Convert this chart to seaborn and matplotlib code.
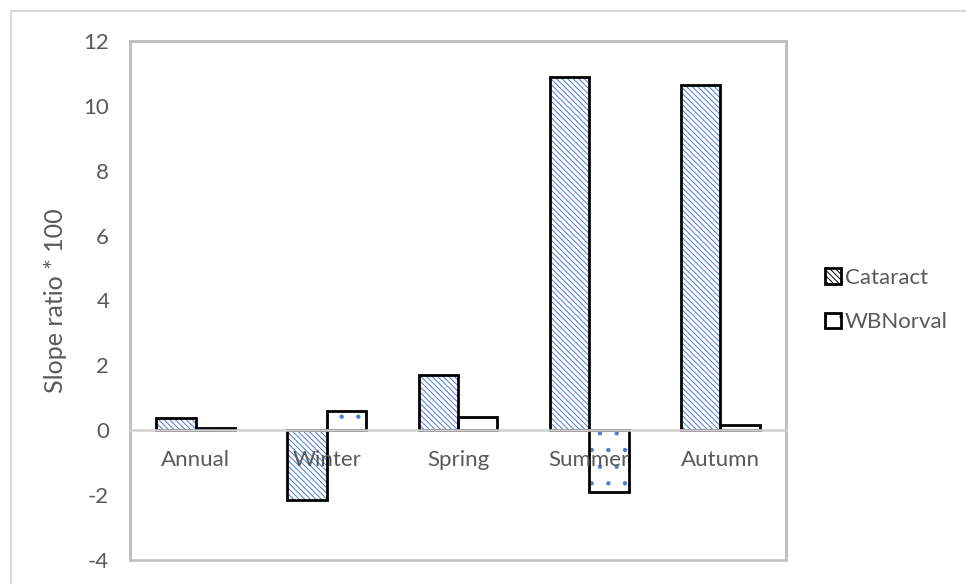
import matplotlib
matplotlib.use("Agg")
import matplotlib.pyplot as plt
import seaborn as sns
import pandas as pd
from matplotlib.patches import Rectangle, Patch

# data
seasons = ["Annual", "Winter", "Spring", "Summer", "Autumn"]
cataract = [0.38, -2.15, 1.7, 10.9, 10.65]
wbnorval = [0.07, 0.6, 0.4, -1.9, 0.15]
series = ["Cataract", "WBNorval"]
yticks = [-4, -2, 0, 2, 4, 6, 8, 10, 12]

df = pd.DataFrame({"Season": seasons * 2,
                   "Series": ["Cataract"] * 5 + ["WBNorval"] * 5,
                   "Value": cataract + wbnorval})

sns.set_theme(style="white")
plt.rcParams["font.family"] = ["Lato", "DejaVu Sans"]
plt.rcParams["hatch.linewidth"] = 0.7
plt.rcParams["axes.unicode_minus"] = False

grey = "#595959"
blue = "#4a7bd4"
hatches = {"Cataract": "\\\\\\\\\\\\", "WBNorval": "."}

fig = plt.figure(figsize=(9.66, 5.84), dpi=100)
ax = fig.add_axes([130 / 966, 1 - 560 / 584, 656 / 966, 519 / 584])

sns.barplot(data=df, x="Season", y="Value", hue="Series", order=seasons,
            hue_order=series, palette=["white", "white"], width=0.6,
            legend=False, ax=ax)

# hatch in blue, then overlay black outline
for container, name in zip(ax.containers, series):
    for bar in container:
        bar.set_hatch(hatches[name])
        bar.set_edgecolor(blue)
        bar.set_linewidth(0)
        ax.add_patch(Rectangle(bar.get_xy(), bar.get_width(), bar.get_height(),
                               fill=False, edgecolor="black", linewidth=2,
                               zorder=bar.get_zorder() + 0.1))

ax.set_ylim(-4, 12)
ax.set_yticks(yticks)
ax.set_xlabel("")
ax.set_ylabel("Slope ratio * 100", fontsize=18, color=grey, labelpad=12)

for side in ["left", "right", "top"]:
    ax.spines[side].set_color("#bfbfbf")
    ax.spines[side].set_linewidth(1.8)
ax.spines["bottom"].set_position(("data", 0))
ax.spines["bottom"].set_color("#d0d0d0")
ax.spines["bottom"].set_linewidth(1.8)
ax.add_patch(Rectangle((0, 0), 1, 1, transform=ax.transAxes, fill=False,
                       edgecolor="#bfbfbf", linewidth=1.8, clip_on=False))

ax.set_axisbelow(False)
ax.xaxis.set_zorder(5)
ax.tick_params(axis="both", length=0, labelsize=16, labelcolor=grey)
ax.tick_params(axis="x", pad=14)
ax.tick_params(axis="y", pad=15)

# outer chart border
fig.patches.append(Rectangle((11 / 966, -0.1), 2, 1 - 11 / 584 + 0.1,
                             transform=fig.transFigure, fill=False,
                             edgecolor="#d9d9d9", linewidth=1.5))

handles = [Patch(facecolor="white", edgecolor="black", hatch=hatches[s],
                 linewidth=2, label=s) for s in series]
leg = fig.legend(handles=handles, loc="center left",
                 bbox_to_anchor=(805 / 966, 1 - 300 / 584), frameon=False,
                 fontsize=16, handlelength=0.7, handleheight=0.7,
                 handletextpad=0.2, labelspacing=1.1, labelcolor=grey)

fig.savefig("out.png", dpi=100)
